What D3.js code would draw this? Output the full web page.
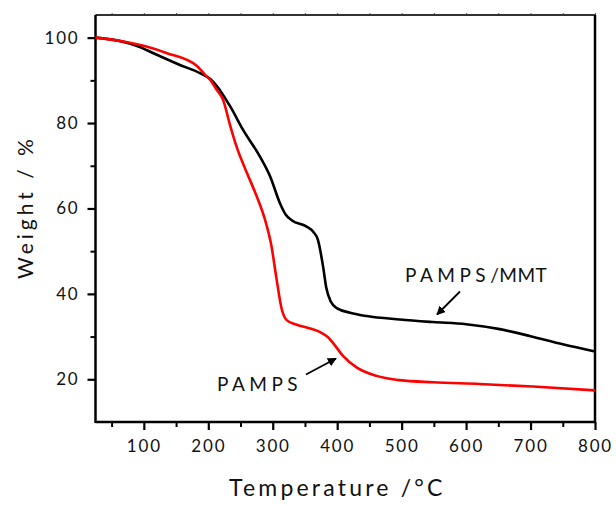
<!DOCTYPE html>
<html lang="en">
<head>
    <meta charset="UTF-8">
    <title>TGA curves PAMPS and PAMPS/MMT</title>
    <script src="https://d3js.org/d3.v7.min.js"></script>
    <style>
        body { margin: 0; background: #fff; }
        text { font-family: Lato, "Open Sans", sans-serif; fill: #111; }
    </style>
</head>
<body>
    <script>
        const width = 616;
        const height = 506;

        // PAMPS/MMT (black)
        const mmtTemp   = [25, 60, 94, 104, 120, 156, 187, 203, 212, 234, 254, 280, 296, 311, 320, 330, 352, 363, 370, 378, 383, 390, 400, 420, 446, 497, 549, 600, 650, 700, 750, 800];
        const mmtWeight = [100, 99.3, 97.8, 97.1, 96, 93.6, 91.7, 90.3, 88.9, 83.9, 78.4, 72.2, 67.5, 61.3, 58.6, 57.2, 55.8, 54.5, 52.7, 46.5, 41.5, 38.2, 36.6, 35.6, 34.8, 34.0, 33.4, 32.9, 31.8, 30.1, 28.2, 26.5];

        // PAMPS (red)
        const pampsTemp   = [25, 68, 104, 135, 182, 195, 203, 213, 223, 234, 244, 260, 275, 288, 298, 306, 314, 322, 335, 358, 373, 386, 394, 409, 430, 461, 497, 549, 621, 704, 800];
        const pampsWeight = [100, 99.1, 97.9, 96.4, 93.4, 91.3, 90.1, 87.8, 85.4, 79.4, 74.4, 68.3, 62.9, 57.4, 51.2, 43.4, 36.4, 33.8, 32.9, 31.9, 31.1, 29.8, 28.4, 25.5, 22.8, 20.8, 19.8, 19.3, 18.9, 18.3, 17.4];

        const xTicks = [100, 200, 300, 400, 500, 600, 700, 800];
        const xMinor = [50, 150, 250, 350, 450, 550, 650, 750];
        const yTicks = [20, 40, 60, 80, 100];
        const yMinor = [30, 50, 70, 90];

        const mLeft = 95.5, mRight = 595, mTop = 15, mBottom = 422;

        const x = d3.scaleLinear().domain([25, 800]).range([mLeft, mRight]);
        const y = d3.scaleLinear().domain([10, 105.3]).range([mBottom, mTop]);

        const svg = d3.select("body").append("svg")
            .attr("width", width)
            .attr("height", height);

        // minor ticks first
        svg.append("g")
            .attr("transform", `translate(0,${mBottom})`)
            .call(d3.axisBottom(x).tickValues(xMinor).tickSize(5).tickFormat(""))
            .call(g => g.select(".domain").remove())
            .call(g => g.selectAll("line").attr("stroke-width", 2));

        svg.append("g")
            .attr("transform", `translate(${mLeft},0)`)
            .call(d3.axisLeft(y).tickValues(yMinor).tickSize(5).tickFormat(""))
            .call(g => g.select(".domain").remove())
            .call(g => g.selectAll("line").attr("stroke-width", 2));

        // major ticks with labels
        const xAxis = svg.append("g")
            .attr("transform", `translate(0,${mBottom})`)
            .call(d3.axisBottom(x).tickValues(xTicks).tickSize(8).tickPadding(10))
            .call(g => g.select(".domain").remove());
        xAxis.selectAll("line").attr("stroke-width", 2.2);
        xAxis.selectAll("text")
            .attr("font-size", 17)
            .attr("letter-spacing", 1.8)
            .attr("font-family", "Lato, sans-serif")
            .attr("fill", "#111");

        const yAxis = svg.append("g")
            .attr("transform", `translate(${mLeft},0)`)
            .call(d3.axisLeft(y).tickValues(yTicks).tickSize(8).tickPadding(8))
            .call(g => g.select(".domain").remove());
        yAxis.selectAll("line").attr("stroke-width", 2.2);
        yAxis.selectAll("text")
            .attr("font-size", 17)
            .attr("letter-spacing", 1.8)
            .attr("font-family", "Lato, sans-serif")
            .attr("fill", "#111");

        // small ticks along the top edge
        svg.append("g")
            .attr("transform", `translate(0,${mTop})`)
            .call(d3.axisTop(x).tickValues(xTicks.concat(xMinor)).tickSize(2).tickFormat(""))
            .call(g => g.select(".domain").remove())
            .call(g => g.selectAll("line").attr("stroke", "#555"));

        // frame
        svg.append("line").attr("x1", mLeft).attr("x2", mRight).attr("y1", mTop).attr("y2", mTop)
            .attr("stroke", "#333").attr("stroke-width", 2);
        svg.append("line").attr("x1", mRight).attr("x2", mRight).attr("y1", mTop).attr("y2", mBottom)
            .attr("stroke", "#000").attr("stroke-width", 2.5);
        svg.append("line").attr("x1", mLeft).attr("x2", mLeft).attr("y1", mTop).attr("y2", mBottom + 1)
            .attr("stroke", "#000").attr("stroke-width", 2.5);
        svg.append("line").attr("x1", mLeft).attr("x2", mRight + 1).attr("y1", mBottom).attr("y2", mBottom)
            .attr("stroke", "#000").attr("stroke-width", 2.5);

        const line = d3.line()
            .x(d => x(d[0]))
            .y(d => y(d[1]))
            .curve(d3.curveMonotoneX);

        const series = [
            {name: "PAMPS/MMT", color: "#000", pts: d3.zip(mmtTemp, mmtWeight)},
            {name: "PAMPS", color: "#ff0000", pts: d3.zip(pampsTemp, pampsWeight)}
        ];

        svg.append("g")
            .selectAll("path")
            .data(series)
            .join("path")
            .attr("fill", "none")
            .attr("stroke", d => d.color)
            .attr("stroke-width", 2.6)
            .attr("stroke-linejoin", "round")
            .attr("d", d => line(d.pts));

        // arrow marker
        svg.append("defs").append("marker")
            .attr("id", "head")
            .attr("viewBox", "0 0 10 10")
            .attr("refX", 9).attr("refY", 5)
            .attr("markerWidth", 5).attr("markerHeight", 5)
            .attr("markerUnits", "strokeWidth")
            .attr("orient", "auto")
            .append("path")
            .attr("d", "M0,0 L10,5 L0,10 z")
            .attr("fill", "#000");

        const arrows = [
            [460, 291.5, 437, 314.5],
            [306, 374.5, 336, 358.5]
        ];
        svg.append("g")
            .selectAll("line")
            .data(arrows)
            .join("line")
            .attr("x1", d => d[0]).attr("y1", d => d[1])
            .attr("x2", d => d[2]).attr("y2", d => d[3])
            .attr("stroke", "#000")
            .attr("stroke-width", 1.8)
            .attr("marker-end", "url(#head)");

        // labels
        const lab1 = svg.append("text")
            .attr("x", 405).attr("y", 282)
            .attr("font-size", 19);
        lab1.append("tspan").attr("letter-spacing", 4.5).text("PAMPS");
        lab1.append("tspan").attr("letter-spacing", 0.5).text("/MMT");

        svg.append("text")
            .attr("x", 217).attr("y", 391)
            .attr("font-size", 19)
            .attr("letter-spacing", 4.5)
            .text("PAMPS");

        // axis titles
        svg.append("text")
            .attr("transform", "translate(33,207) rotate(-90)")
            .attr("text-anchor", "middle")
            .attr("font-size", 21)
            .attr("letter-spacing", 4)
            .text("Weight / %");

        svg.append("text")
            .attr("x", 229).attr("y", 496)
            .attr("font-size", 23)
            .attr("letter-spacing", 3.2)
            .text("Temperature /°C");
    </script>
</body>
</html>
